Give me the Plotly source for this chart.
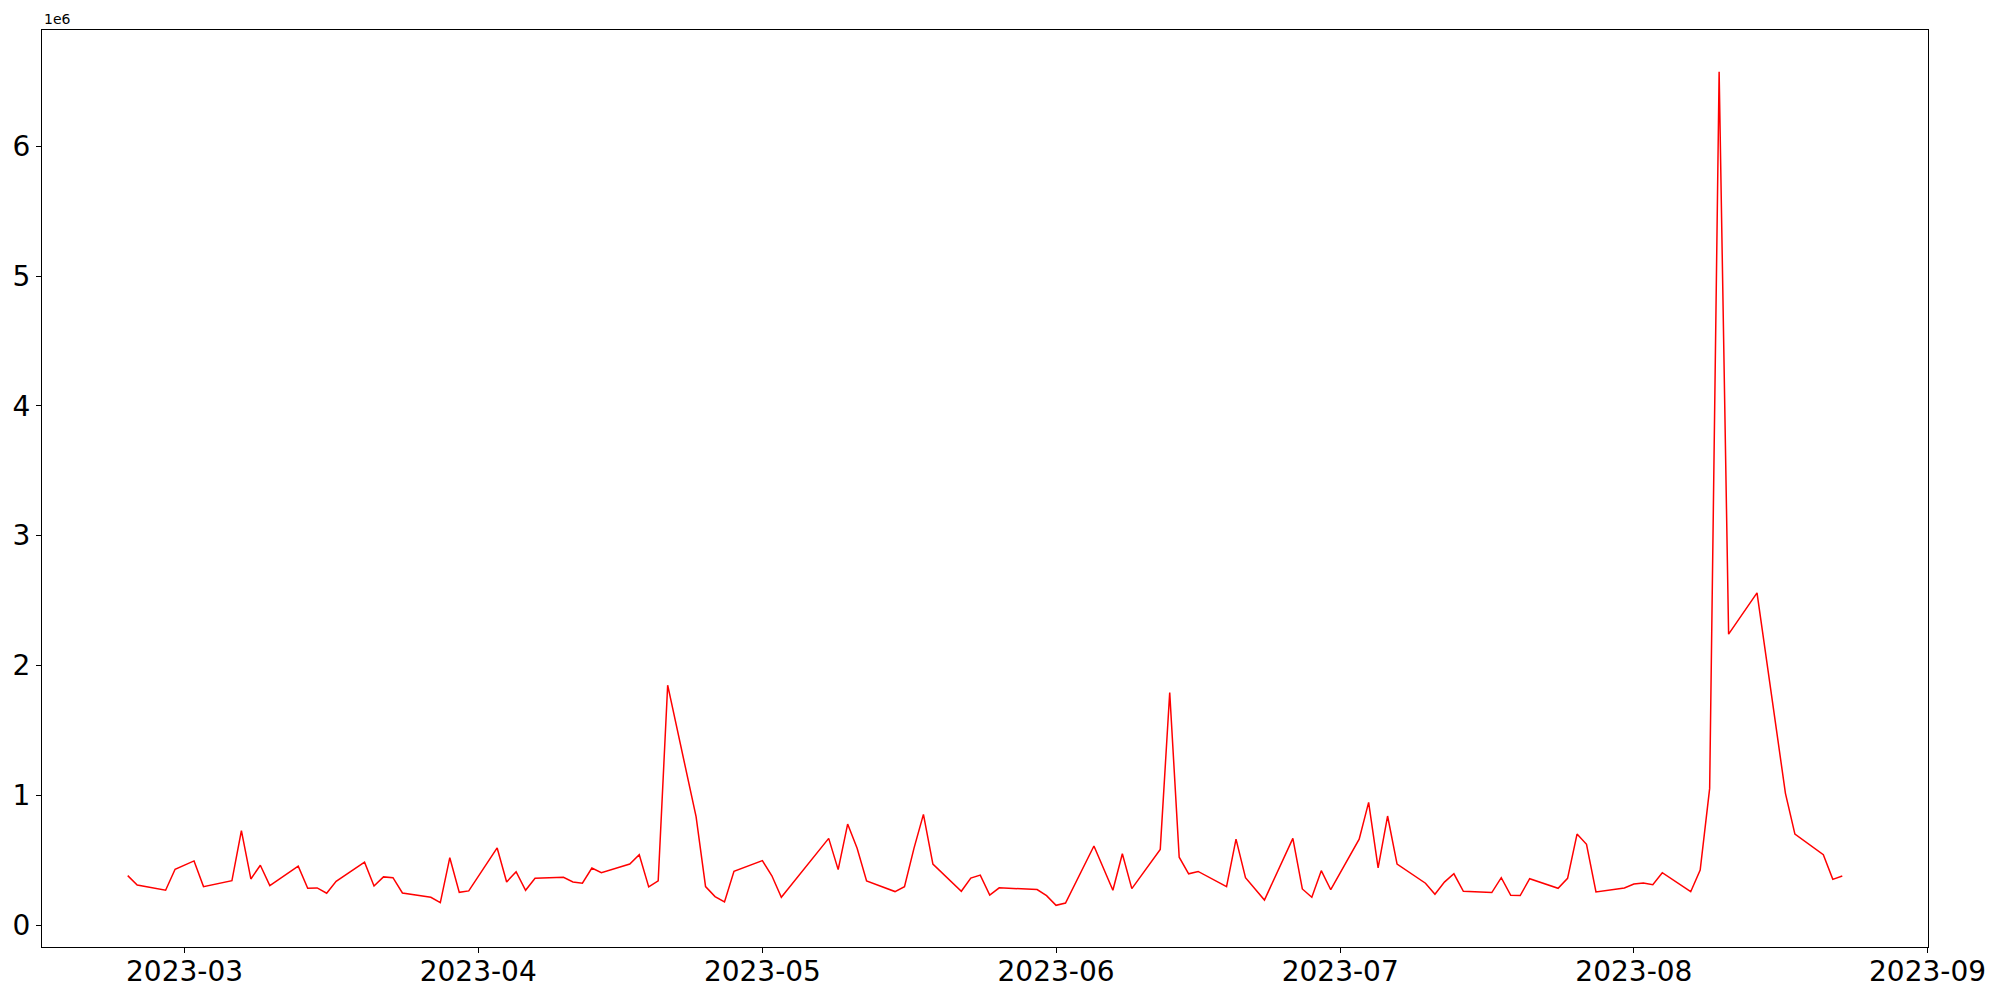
import pandas as pd
import plotly.graph_objects as go

dates = [
    "2023-02-23", "2023-02-24", "2023-02-27", "2023-02-28", "2023-03-02", "2023-03-03",
    "2023-03-06", "2023-03-07", "2023-03-08", "2023-03-09", "2023-03-10",
    "2023-03-13", "2023-03-14", "2023-03-15", "2023-03-16", "2023-03-17",
    "2023-03-20", "2023-03-21", "2023-03-22", "2023-03-23", "2023-03-24",
    "2023-03-27", "2023-03-28", "2023-03-29", "2023-03-30", "2023-03-31",
    "2023-04-03", "2023-04-04", "2023-04-05", "2023-04-06", "2023-04-07",
    "2023-04-10", "2023-04-11", "2023-04-12", "2023-04-13", "2023-04-14",
    "2023-04-17", "2023-04-18", "2023-04-19", "2023-04-20", "2023-04-21",
    "2023-04-24", "2023-04-25", "2023-04-26", "2023-04-27", "2023-04-28",
    "2023-05-01", "2023-05-02", "2023-05-03",
    "2023-05-08", "2023-05-09", "2023-05-10", "2023-05-11", "2023-05-12",
    "2023-05-15", "2023-05-16", "2023-05-17", "2023-05-18", "2023-05-19",
    "2023-05-22", "2023-05-23", "2023-05-24", "2023-05-25", "2023-05-26",
    "2023-05-30", "2023-05-31", "2023-06-01", "2023-06-02",
    "2023-06-05", "2023-06-07", "2023-06-08", "2023-06-09",
    "2023-06-12", "2023-06-13", "2023-06-14", "2023-06-15", "2023-06-16",
    "2023-06-19", "2023-06-20", "2023-06-21", "2023-06-23",
    "2023-06-26", "2023-06-27", "2023-06-28", "2023-06-29", "2023-06-30",
    "2023-07-03", "2023-07-04", "2023-07-05", "2023-07-06", "2023-07-07",
    "2023-07-10", "2023-07-11", "2023-07-12", "2023-07-13", "2023-07-14",
    "2023-07-17", "2023-07-18", "2023-07-19", "2023-07-20", "2023-07-21",
    "2023-07-24", "2023-07-25", "2023-07-26", "2023-07-27", "2023-07-28",
    "2023-07-31", "2023-08-01", "2023-08-02", "2023-08-03", "2023-08-04",
    "2023-08-07", "2023-08-08", "2023-08-09", "2023-08-10", "2023-08-11",
    "2023-08-14", "2023-08-17", "2023-08-18",
    "2023-08-21", "2023-08-22", "2023-08-23",
]

values = [
    381000, 309000, 268000, 430000, 494000, 296000,
    342000, 727000, 355000, 461000, 304000,
    453000, 283000, 286000, 245000, 337000,
    484000, 301000, 371000, 365000, 247000,
    214000, 173000, 519000, 252000, 263000,
    594000, 332000, 411000, 268000, 360000,
    368000, 332000, 322000, 439000, 404000,
    470000, 542000, 294000, 340000, 1848000,
    835000, 296000, 219000, 178000, 414000,
    496000, 380000, 214000,
    668000, 427000, 778000, 591000, 340000,
    258000, 296000, 591000, 853000, 470000,
    260000, 362000, 385000, 231000, 287000,
    273000, 226000, 152000, 170000,
    609000, 268000, 549000, 281000,
    583000, 1792000, 523000, 395000, 413000,
    296000, 662000, 365000, 193000,
    668000, 278000, 214000, 419000, 272000,
    662000, 945000, 441000, 840000, 470000,
    322000, 237000, 331000, 395000, 260000,
    250000, 365000, 229000, 227000, 357000,
    283000, 360000, 701000, 622000, 255000,
    286000, 316000, 324000, 311000, 403000,
    257000, 424000, 1053000, 6575000, 2241000,
    2559000, 1015000, 701000,
    542000, 352000, 378000,
]

x_ticks = ["2023-03-01", "2023-04-01", "2023-05-01", "2023-06-01",
           "2023-07-01", "2023-08-01", "2023-09-01"]
x_tick_labels = ["2023-03", "2023-04", "2023-05", "2023-06",
                 "2023-07", "2023-08", "2023-09"]
y_ticks = [0, 1e6, 2e6, 3e6, 4e6, 5e6, 6e6]
y_tick_labels = ["0", "1", "2", "3", "4", "5", "6"]
offset_label = "1e6"

dt = pd.to_datetime(dates)
xmin, xmax = dt.min(), dt.max()
xpad = (xmax - xmin) * 0.05
ymin, ymax = min(values), max(values)
ypad = (ymax - ymin) * 0.05

FONT = "DejaVu Sans"

fig = go.Figure()
fig.add_trace(go.Scatter(
    x=dt, y=values, mode="lines",
    line=dict(color="red", width=1.5),
    showlegend=False, hoverinfo="x+y",
))

axis_common = dict(
    showgrid=False, zeroline=False, showline=True, mirror=True,
    linecolor="black", linewidth=1, ticks="outside", ticklen=5,
    tickwidth=1, tickcolor="black", automargin=False,
    tickfont=dict(family=FONT, size=28, color="black"),
)

fig.update_xaxes(
    range=[xmin - xpad, xmax + xpad],
    tickvals=pd.to_datetime(x_ticks), ticktext=x_tick_labels,
    ticklabelstandoff=-6,
    **axis_common,
)
fig.update_yaxes(
    range=[ymin - ypad, ymax + ypad],
    tickvals=y_ticks, ticktext=y_tick_labels,
    **axis_common,
)

fig.add_annotation(
    text=offset_label, xref="paper", yref="paper", x=0, y=1,
    xanchor="left", yanchor="bottom", showarrow=False, yshift=1,
    font=dict(family=FONT, size=14, color="black"),
)

fig.update_layout(
    width=2000, height=1000,
    margin=dict(l=42, r=72, t=30, b=53, pad=0),
    plot_bgcolor="white", paper_bgcolor="white",
    font=dict(family=FONT, color="black"),
)

fig.write_html("out.html", config={"displayModeBar": False},
               post_script="document.body.style.margin='0';")
